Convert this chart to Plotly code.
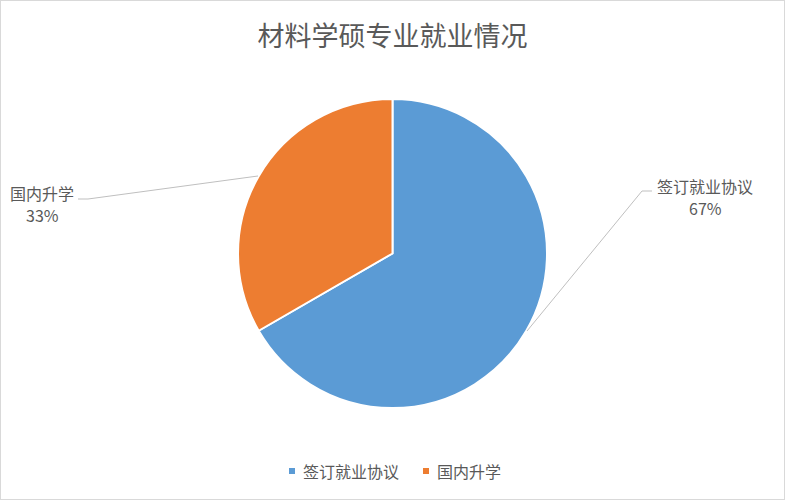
import plotly.graph_objects as go

# chart data
labels = ['签订就业协议', '国内升学']
values = [2, 1]
colors = ['#5B9BD5', '#ED7D31']

W, H = 785, 500
FONT = 'Noto Sans CJK SC'
GREY = '#595959'
total = sum(values)
pcts = [round(v / total * 100) for v in values]

fig = go.Figure()
fig.add_trace(go.Pie(
    labels=labels,
    values=values,
    marker=dict(colors=colors, line=dict(color='white', width=2)),
    sort=False,
    direction='clockwise',
    rotation=0,
    textinfo='none',
    hoverinfo='label+percent',
    domain=dict(x=[237.5 / W, 547.5 / W], y=[92 / H, 401 / H]),
    showlegend=False,
))

# outside data labels (Excel style): name on one line, percent below
label_pos = [(705, 186), (42, 193)]
for lab, p, (lx, ly) in zip(labels, pcts, label_pos):
    for txt, dy in [(lab, 0), (f'{p}%', 22)]:
        fig.add_annotation(
            x=lx / W, y=1 - (ly + dy) / H, xref='paper', yref='paper',
            xanchor='center', yanchor='middle',
            text=txt, showarrow=False,
            font=dict(family=FONT, size=16, color=GREY),
        )

# leader lines
leader_paths = [
    [(652, 191), (642, 191), (527, 331)],
    [(78, 199), (88, 199), (258, 176)],
]
for pts in leader_paths:
    path = 'M ' + ' L '.join(f'{x / W} {1 - y / H}' for x, y in pts)
    fig.add_shape(type='path', path=path, xref='paper', yref='paper',
                  line=dict(color='#BFBFBF', width=1))

# legend drawn Excel style: small square + label
legend_x = [289, 423]
legend_y = 471
for lab, col, lx in zip(labels, colors, legend_x):
    fig.add_shape(type='rect', xref='paper', yref='paper',
                  x0=lx / W, x1=(lx + 6) / W,
                  y0=1 - (legend_y + 3) / H, y1=1 - (legend_y - 3) / H,
                  fillcolor=col, line=dict(width=0))
    fig.add_annotation(x=(lx + 12) / W, y=1 - legend_y / H, xref='paper', yref='paper',
                       xanchor='left', yanchor='middle', text=lab, showarrow=False,
                       font=dict(family=FONT, size=16, color=GREY))

# chart border
fig.add_shape(type='rect', xref='paper', yref='paper', x0=0, y0=0, x1=1, y1=1,
              line=dict(color='#D9D9D9', width=2))

fig.update_layout(
    width=W, height=H,
    margin=dict(l=0, r=0, t=0, b=0),
    paper_bgcolor='white',
    title=dict(text='材料学硕专业就业情况', x=0.5, xanchor='center',
               y=1 - 37 / H, yanchor='middle',
               font=dict(family=FONT, size=27, color=GREY)),
    showlegend=False,
)

fig.write_html('out.html', config={'displayModeBar': False},
               post_script="document.body.style.margin='0';")
